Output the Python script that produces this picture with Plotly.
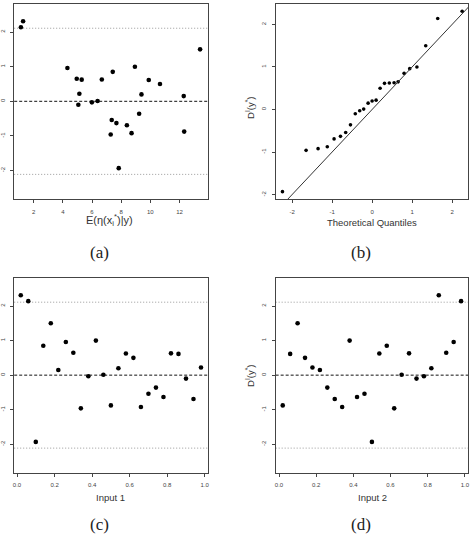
import plotly.graph_objects as go

W, H = 474, 536

# ---------------- data ----------------
input1 = [0.02, 0.06, 0.10, 0.14, 0.18, 0.22, 0.26, 0.30, 0.34, 0.38, 0.42, 0.46, 0.50,
          0.54, 0.58, 0.62, 0.66, 0.70, 0.74, 0.78, 0.82, 0.86, 0.90, 0.94, 0.98]
input2 = [0.86, 0.98, 0.50, 0.58, 0.10, 0.22, 0.94, 0.90, 0.62, 0.78, 0.38, 0.66, 0.02,
          0.82, 0.54, 0.14, 0.34, 0.46, 0.26, 0.42, 0.70, 0.06, 0.74, 0.30, 0.18]
D_I = [2.31, 2.14, -1.93, 0.85, 1.50, 0.15, 0.96, 0.65, -0.96, -0.03, 1.00, 0.01, -0.875,
       0.20, 0.625, 0.50, -0.92, -0.54, -0.36, -0.63, 0.63, 0.615, -0.10, -0.69, 0.22]
pred_mean = [1.27, 1.12, 7.83, 7.42, 13.41, 12.29, 4.31, 4.95, 7.28, 5.99, 8.94, 6.38, 12.32,
             9.39, 5.29, 10.66, 8.71, 7.35, 9.23, 7.67, 6.67, 9.89, 5.06, 8.39, 5.13]
theo_q = [-2.24, -1.65, -1.35, -1.12, -0.95, -0.79, -0.66, -0.54, -0.42, -0.31, -0.21, -0.10, 0.00,
          0.10, 0.20, 0.31, 0.43, 0.55, 0.65, 0.80, 0.94, 1.12, 1.34, 1.64, 2.25]
bound = 2.11
qq_slope, qq_intercept = 1.0, 0.0

xt_a = [2, 4, 6, 8, 10, 12]
xt_unit = [0.0, 0.2, 0.4, 0.6, 0.8, 1.0]
yt_int = [-2, -1, 0, 1, 2]


def lab(v, fmt="{:g}"):
    return fmt.format(v).replace("\u2212", "-")


# ---------------- layout geometry (pixels) ----------------
def dx(x0, x1):
    return [x0 / W, x1 / W]


def dy(top, bot):
    return [1 - bot / H, 1 - top / H]


LEFT = dx(12.3, 207.7)
RIGHT = dx(276.0, 470.3)
TOP = dy(4.0, 199.3)
BOT = dy(278.0, 473.0)

fig = go.Figure()

tickfont = dict(family="Liberation Sans, Arial, sans-serif", size=6, color="#444")
axis_common = dict(showgrid=False, zeroline=False, showline=True, mirror=True,
                   linecolor="#444", linewidth=1, ticks="outside", ticklen=3,
                   tickcolor="#444", tickwidth=1, tickfont=tickfont)


def xax(domain, anchor, rng, tv, fmt):
    return dict(axis_common, domain=domain, anchor=anchor, range=rng,
                tickmode="array", tickvals=tv, ticktext=[lab(v, fmt) for v in tv],
                ticklabelstandoff=3)


def yax(domain, anchor, rng, tv):
    return dict(axis_common, domain=domain, anchor=anchor, range=rng,
                tickmode="array", tickvals=tv, ticktext=[lab(v) for v in tv],
                tickangle=-90, ticklabelstandoff=3)


yr = [-2.83, 2.81]
fig.update_layout(
    xaxis=xax(LEFT, "y", [0.66, 13.95], xt_a, "{:g}"),
    yaxis=yax(TOP, "x", yr, yt_int),
    xaxis2=xax(RIGHT, "y2", [-2.41, 2.405], yt_int, "{:g}"),
    yaxis2=yax(TOP, "x2", [-2.11, 2.48], yt_int),
    xaxis3=xax(LEFT, "y3", [-0.015, 1.017], xt_unit, "{:.1f}"),
    yaxis3=yax(BOT, "x3", yr, yt_int),
    xaxis4=xax(RIGHT, "y4", [-0.018, 1.019], xt_unit, "{:.1f}"),
    yaxis4=yax(BOT, "x4", yr, yt_int),
)

mk = dict(color="black", size=4.6)
fig.add_trace(go.Scatter(x=pred_mean, y=D_I, mode="markers", marker=mk, xaxis="x", yaxis="y"))
fig.add_trace(go.Scatter(x=theo_q, y=sorted(D_I), mode="markers", marker=dict(color="black", size=3.6),
                         xaxis="x2", yaxis="y2"))
xl = [-3, 3]
fig.add_trace(go.Scatter(x=xl, y=[qq_intercept + qq_slope * v for v in xl], mode="lines",
                         line=dict(color="#333", width=1), xaxis="x2", yaxis="y2"))
fig.add_trace(go.Scatter(x=input1, y=D_I, mode="markers", marker=mk, xaxis="x3", yaxis="y3"))
fig.add_trace(go.Scatter(x=input2, y=D_I, mode="markers", marker=mk, xaxis="x4", yaxis="y4"))

shapes = []
for xa, ya in [("x", "y"), ("x3", "y3"), ("x4", "y4")]:
    shapes.append(dict(type="line", xref=xa + " domain", yref=ya, x0=0, x1=1, y0=0, y1=0,
                       line=dict(color="#111", width=1, dash="3px,2px"), layer="below"))
    for b in (bound, -bound):
        shapes.append(dict(type="line", xref=xa + " domain", yref=ya, x0=0, x1=1, y0=b, y1=b,
                           line=dict(color="#999", width=1, dash="1px,2px"), layer="below"))

titlefont = dict(family="Liberation Sans, Arial, sans-serif", size=9.5, color="#333")
capfont = dict(family="Liberation Serif, Times New Roman, serif", size=17, color="#222")


def ann(text, x, y, font, angle=0):
    return dict(text=text, x=x / W, y=1 - y / H, xref="paper", yref="paper",
                showarrow=False, font=font, textangle=angle, xanchor="center", yanchor="middle")


annotations = [
    ann("E(η(x<sub>i</sub><sup>*</sup>)|y)", 108, 220, dict(titlefont, size=11)),
    ann("Theoretical Quantiles", 373.5, 222.5, titlefont),
    ann("D<sup>I</sup>(y<sup>*</sup>)", 250, 108, titlefont, -90),
    ann("Input 1", 109, 497, titlefont),
    ann("Input 2", 373.5, 497, titlefont),
    ann("D<sup>I</sup>(y<sup>*</sup>)", 250, 376, titlefont, -90),
    ann("(a)", 98, 252, capfont),
    ann("(b)", 362, 252, capfont),
    ann("(c)", 98, 524, capfont),
    ann("(d)", 362, 524, capfont),
]

fig.update_layout(width=W, height=H, margin=dict(l=0, r=0, t=0, b=0),
                  paper_bgcolor="white", plot_bgcolor="white", showlegend=False,
                  shapes=shapes, annotations=annotations)

fig.write_html("out.html")
